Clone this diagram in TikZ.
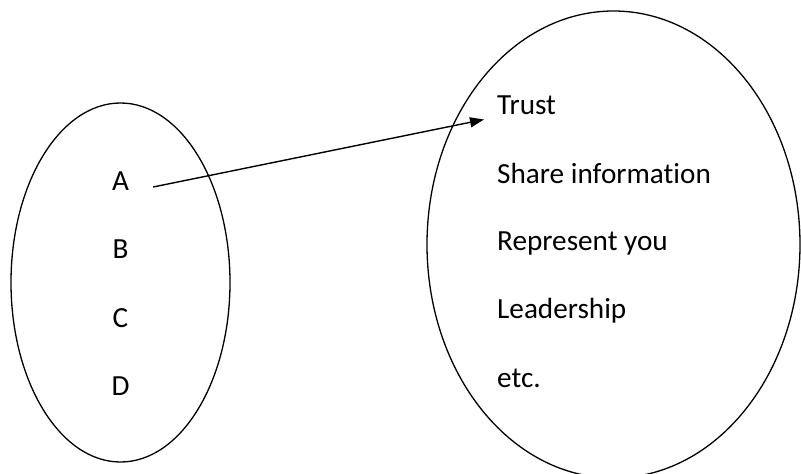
\documentclass[tikz,border=0pt]{standalone}
\usepackage{fontspec}
\setmainfont[Ligatures={NoCommon,NoRare,NoDiscretionary}]{Carlito}
\usetikzlibrary{arrows.meta,calc,shapes.geometric}
\begin{document}
\begin{tikzpicture}[x=1pt,y=-1pt,
  oval/.style={draw=black,line width=1.3pt},
  lbl/.style={inner sep=0pt,font=\fontsize{29.2}{33}\selectfont},
  conn/.style={line width=1.4pt,-{Triangle[length=14pt,width=10pt]}}]
\useasboundingbox (0,0) rectangle (801,474);
\draw[oval] (120.5,282.5) ellipse [x radius=109.5, y radius=179.5];
\draw[oval] (613.5,244.5) ellipse [x radius=186.5, y radius=233.5];
\node[lbl,anchor=base] (A) at (120.5,190) {A};
\node[lbl,anchor=base] (B) at (120.5,258) {B};
\node[lbl,anchor=base] (C) at (120.5,327) {C};
\node[lbl,anchor=base] (D) at (120.5,395) {D};
\node[lbl,anchor=base west] (trust) at (497,114.5) {Trust};
\node[lbl,anchor=base west] (share) at (497,183) {Share information};
\node[lbl,anchor=base west] (repr) at (497,250) {Represent you};
\node[lbl,anchor=base west] (lead) at (497,318) {Leadership};
\node[lbl,anchor=base west] (etc) at (497,387) {etc.};
\draw[conn] ($(A.base east)+(24,-3)$) -- ($(trust.base west)+(-13,5)$);
\end{tikzpicture}
\end{document}
